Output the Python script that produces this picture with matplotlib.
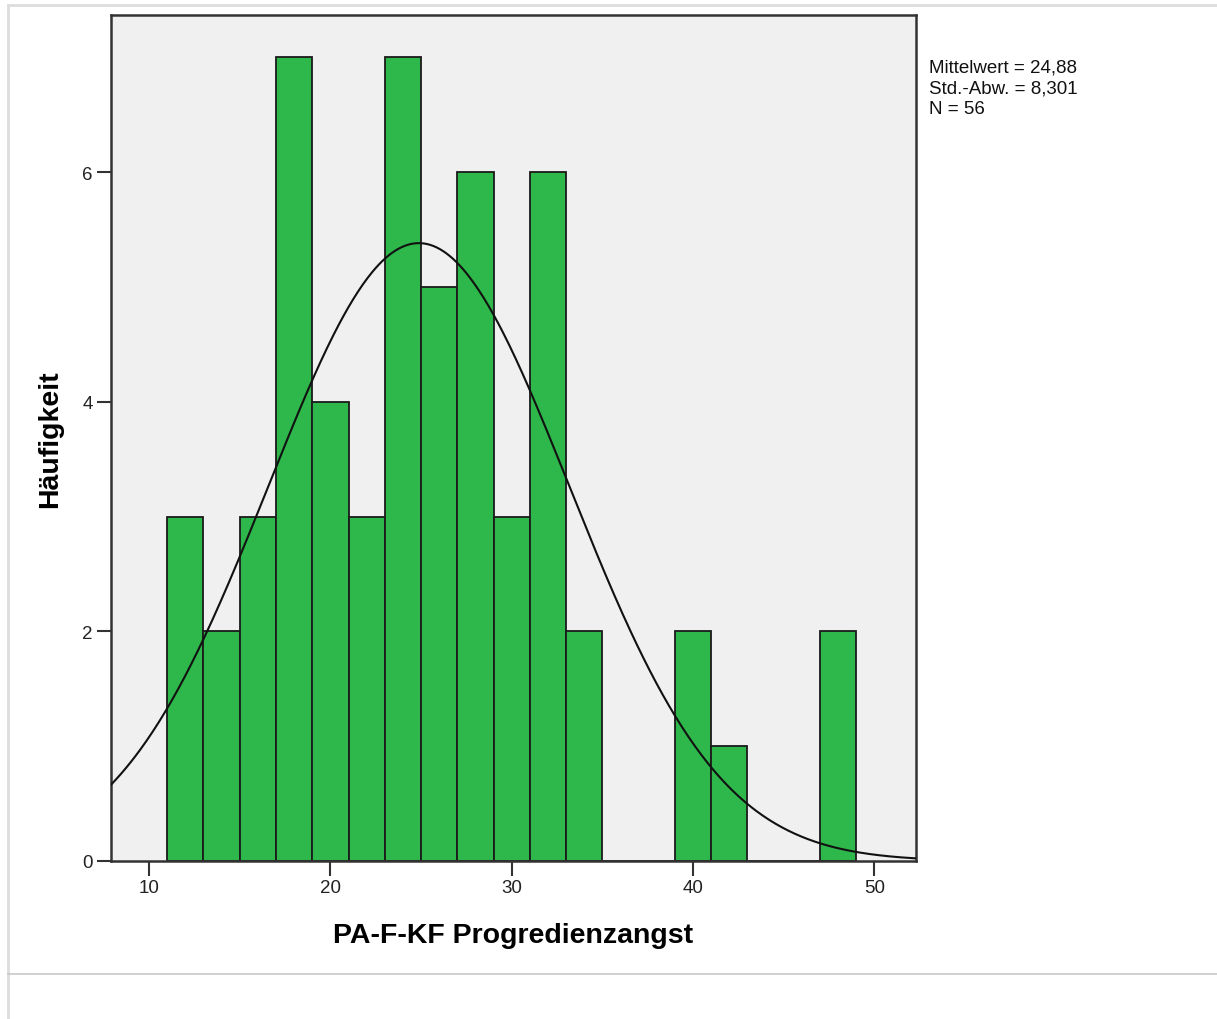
import numpy as np
import matplotlib.pyplot as plt
from matplotlib.lines import Line2D

# Histogramm-Daten (Klassenbreite 2)
bin_edges = [11, 13, 15, 17, 19, 21, 23, 25, 27, 29, 31, 33, 35, 37, 39, 41, 43, 45, 47, 49]
counts = [3, 2, 3, 7, 4, 3, 7, 5, 6, 3, 6, 2, 0, 0, 2, 1, 0, 0, 2]
mittelwert = 24.88
std_abw = 8.301
n = 56
x_ticks = [10, 20, 30, 40, 50]
y_ticks = [0, 2, 4, 6]
stat_zeilen = ['Mittelwert = 24,88', 'Std.-Abw. = 8,301', 'N = 56']

plt.rcParams['font.family'] = ['Liberation Sans', 'DejaVu Sans']

fig = plt.figure(figsize=(12.17, 10.20), dpi=100)
ax = fig.add_axes([111 / 1217, 1 - 862 / 1020, 805 / 1217, 846 / 1020])
ax.set_facecolor('#f0f0f0')

# Balken
edges = np.array(bin_edges)
ax.bar(edges[:-1], counts, width=np.diff(edges), align='edge',
       color='#2eb84b', edgecolor='#1a1a1a', linewidth=1.3, zorder=2)

ax.set_xlim(7.9, 52.3)
ax.set_ylim(0, 7.37)

# Normalverteilungskurve
xs = np.linspace(7.9, 52.3, 500)
breite = bin_edges[1] - bin_edges[0]
ys = n * breite / (std_abw * np.sqrt(2 * np.pi)) * np.exp(-0.5 * ((xs - mittelwert) / std_abw) ** 2)
ax.plot(xs, ys, color='#111111', linewidth=1.5, zorder=3)

ax.set_xticks(x_ticks)
ax.set_yticks(y_ticks)
ax.tick_params(axis='x', direction='out', length=11, width=1.5, color='#333333',
               labelsize=13.5, pad=2, labelcolor='#222222')
ax.tick_params(axis='y', direction='out', length=10, width=1.5, color='#333333',
               labelsize=13.5, pad=3, labelcolor='#222222')
for side in ax.spines.values():
    side.set_color('#333333')
    side.set_linewidth(1.8)

ax.set_xlabel('PA-F-KF Progredienzangst', fontsize=20.5, fontweight='bold', labelpad=19)
ax.set_ylabel('Häufigkeit', fontsize=20.5, fontweight='bold', labelpad=14)

# Statistik-Text
for i, zeile in enumerate(stat_zeilen):
    fig.text(929 / 1217, 1 - (68 + 21 * i) / 1020, zeile,
             fontsize=13.5, va='center', ha='left', color='#111111')

# Rahmen der Ausgabe
fig.add_artist(Line2D([8 / 1217, 1], [1 - 6 / 1020, 1 - 6 / 1020], color='#dddddd', linewidth=2))
fig.add_artist(Line2D([8 / 1217, 8 / 1217], [0, 1 - 6 / 1020], color='#dddddd', linewidth=2))
fig.add_artist(Line2D([8 / 1217, 1], [1 - 975 / 1020, 1 - 975 / 1020], color='#c8c8c8', linewidth=1.2))

fig.savefig('out.png', dpi=100)
